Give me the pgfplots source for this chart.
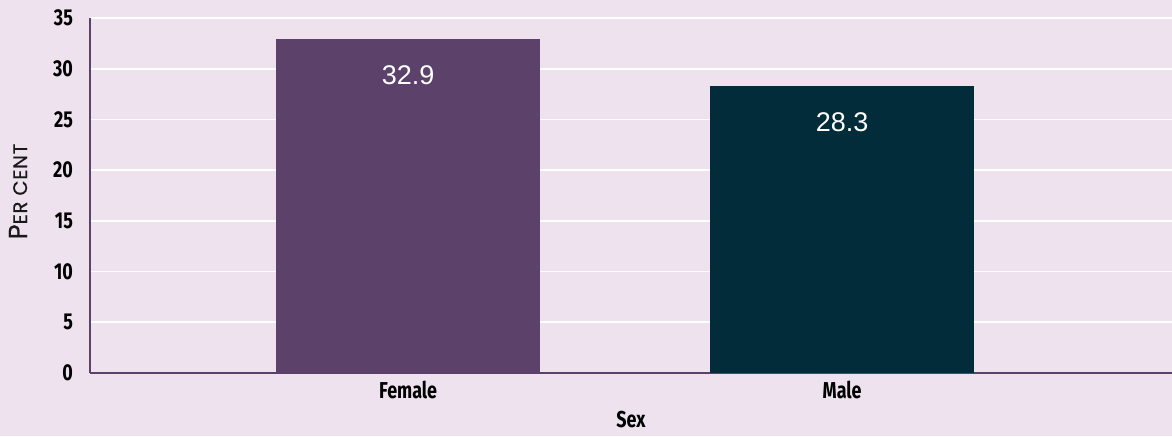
\documentclass[border=0pt]{standalone}
\usepackage{pgfplots}
\pgfplotsset{compat=1.18}
\usepackage{fontspec}
\setmainfont{Liberation Sans}
\newfontfamily\condfont[FakeStretch=0.78]{Fira Sans}
\newfontfamily\geofont[LetterSpace=4, FakeBold=0.6]{Poppins}
\definecolor{bgc}{HTML}{EEE2EF}
\definecolor{plum}{HTML}{5C426B}
\definecolor{navy}{HTML}{022C3A}
\begin{document}
\begin{tikzpicture}
\fill[bgc] (-45pt,-31.5pt) rectangle (541pt,186.5pt);
\path[use as bounding box] (-45pt,-31.5pt) rectangle (541pt,186.5pt);
\begin{axis}[
  scale only axis, width=541pt, height=177.5pt,
  xmin=-0.733, xmax=1.76, ymin=0, ymax=35,
  ytick={0,5,...,35}, xtick={0,1}, xticklabels={Female,Male},
  axis x line=bottom, axis y line=left,
  axis line style={plum, line width=1pt, -},
  major tick length=0pt,
  ymajorgrids, grid style={white, line width=0.8pt},
  ticklabel style={font=\condfont\bfseries\fontsize{11.5}{13}\selectfont, text=black},
  yticklabel style={xshift=-5pt, /pgf/number format/assume math mode=true},
  xticklabel style={yshift=-0.5pt},
  xlabel={Sex},
  every axis x label/.style={at={(axis description cs:0.5,0)}, anchor=center, yshift=-23.5pt, font=\condfont\bfseries\fontsize{11.5}{13}\selectfont},
  ylabel={{\fontsize{13}{14}\selectfont P}{\fontsize{9.8}{10}\selectfont ER CENT}},
  every axis y label/.style={at={(axis description cs:0,0.5)}, xshift=-36pt, yshift=2pt, rotate=90, anchor=center, font=\geofont, text=black!90},
  nodes near coords,
  every node near coord/.style={anchor=center, yshift=-18pt, text=white, font=\fontsize{13.5}{16}\selectfont,
    /pgf/number format/.cd, fixed, precision=1, fixed zerofill, assume math mode=true},
]
\addplot[ybar, bar width=132pt, bar shift=0pt, fill=plum, draw=none] coordinates {(0,32.9)};
\addplot[ybar, bar width=132pt, bar shift=0pt, fill=navy, draw=none] coordinates {(1,28.3)};
\end{axis}
\end{tikzpicture}
\end{document}
